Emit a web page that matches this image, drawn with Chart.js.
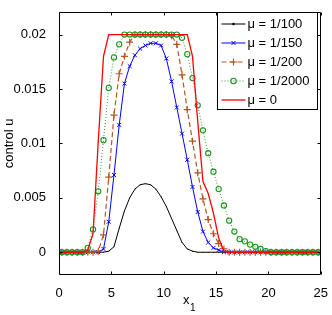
<!DOCTYPE html>
<html>
<head>
<meta charset="utf-8">
<script src="https://cdn.jsdelivr.net/npm/chart.js@4/dist/chart.umd.min.js"></script>
<style>
  html, body { margin: 0; padding: 0; background: #fff; }
  canvas { display: block; }
</style>
</head>
<body>
<canvas id="chart" width="332" height="315"></canvas>
<script>
// grid points (cell centres, spacing 0.5)
const xs = [0.25, 0.75, 1.25, 1.75, 2.25, 2.75, 3.25, 3.75, 4.25, 4.75,
            5.25, 5.75, 6.25, 6.75, 7.25, 7.75, 8.25, 8.75, 9.25, 9.75,
            10.25, 10.75, 11.25, 11.75, 12.25, 12.75, 13.25, 13.75, 14.25, 14.75,
            15.25, 15.75, 16.25, 16.75, 17.25, 17.75, 18.25, 18.75, 19.25, 19.75,
            20.25, 20.75, 21.25, 21.75, 22.25, 22.75, 23.25, 23.75, 24.25, 24.75];

// control u for each mu
const mu100 = [0, 0, 0, 0, 0, 0, 0, 0, 0, 0.0001,
               0.0005, 0.0022, 0.0038, 0.0050, 0.0058, 0.0062, 0.0063, 0.0062, 0.0058, 0.0051,
               0.0042, 0.0031, 0.0020, 0.0009, 0.0003, 0.0001, 0, 0, 0, 0,
               0, 0, 0, 0, 0, 0, 0, 0, 0, 0,
               0, 0, 0, 0, 0, 0, 0, 0, 0, 0];
const mu150 = [0, 0, 0, 0, 0, 0, 0, 0, 0.0003, 0.0028,
               0.0071, 0.0117, 0.0155, 0.0171, 0.0181, 0.0187, 0.0190, 0.0192, 0.0192, 0.0190,
               0.0178, 0.0157, 0.0133, 0.0109, 0.0085, 0.0060, 0.0037, 0.0019, 0.0009, 0.0004,
               0.0002, 0, 0, 0, 0, 0, 0, 0, 0, 0,
               0, 0, 0, 0, 0, 0, 0, 0, 0, 0];
const mu200 = [0, 0, 0, 0, 0, 0, 0, 0.0001, 0.0016, 0.0069,
               0.0126, 0.0164, 0.0180, 0.0193, 0.0200, 0.0200, 0.0200, 0.0200, 0.0200, 0.0200,
               0.0200, 0.0199, 0.0191, 0.0163, 0.0131, 0.0102, 0.0073, 0.0049, 0.0030, 0.0017,
               0.0008, 0.0003, 0, 0, 0, 0, 0, 0, 0, 0,
               0, 0, 0, 0, 0, 0, 0, 0, 0, 0];
const mu2000 = [0, 0, 0, 0, 0, 0.0004, 0.0021, 0.0056, 0.0103, 0.0151,
                0.0179, 0.0191, 0.0200, 0.0200, 0.0200, 0.0200, 0.0200, 0.0200, 0.0200, 0.0200,
                0.0200, 0.0200, 0.0200, 0.0197, 0.0182, 0.0160, 0.0135, 0.0112, 0.0091, 0.0074,
                0.0058, 0.0043, 0.0029, 0.0019, 0.0012, 0.0010, 0.0007, 0.0005, 0.0003, 0.0001,
                0, 0, 0, 0, 0, 0, 0, 0, 0, 0];
const mu0 = [0, 0, 0, 0, 0, 0.0002, 0.0017, 0.0102, 0.0180, 0.0200,
             0.0200, 0.0200, 0.0200, 0.0200, 0.0200, 0.0200, 0.0200, 0.0200, 0.0200, 0.0200,
             0.0200, 0.0200, 0.0200, 0.0200, 0.0200, 0.0180, 0.0120, 0.0065, 0.0054, 0.0036,
             0.0013, 0.0001, 0, 0, 0, 0, 0, 0, 0, 0,
             0, 0, 0, 0, 0, 0, 0, 0, 0, 0];

const seriesLabels = ["μ = 1/100", "μ = 1/150", "μ = 1/200", "μ = 1/2000", "μ = 0"];
const legendMarkerRadius = [1.3, 2.8, 3.5, 2.7, 0];
const xTicks = [0, 5, 10, 15, 20, 25];
const yTicks = [0, 0.005, 0.01, 0.015, 0.02];

const FONT = '"Liberation Sans", Arial, Helvetica, sans-serif';

function toPoints(ys) {
    return xs.map((x, i) => ({ x: x, y: ys[i] }));
}

// box round the plot with inward ticks, matlab style
const boxPlugin = {
    id: "boxPlugin",
    afterDatasetsDraw(chart) {
        const { ctx, chartArea: a, scales } = chart;
        const L = Math.floor(a.left) + 0.5, R = Math.floor(a.right) + 0.5;
        const T = Math.floor(a.top) + 0.5, B = Math.floor(a.bottom) + 0.5;
        ctx.save();
        ctx.strokeStyle = "#000";
        ctx.lineWidth = 1;
        ctx.beginPath();
        ctx.rect(L, T, R - L, B - T);
        xTicks.forEach(v => {
            const px = Math.round(scales.x.getPixelForValue(v)) + 0.5;
            ctx.moveTo(px, B); ctx.lineTo(px, B - 3);
            ctx.moveTo(px, T); ctx.lineTo(px, T + 3);
        });
        yTicks.forEach(v => {
            const py = Math.round(scales.y.getPixelForValue(v)) + 0.5;
            ctx.moveTo(L, py); ctx.lineTo(L + 3, py);
            ctx.moveTo(R, py); ctx.lineTo(R - 3, py);
        });
        ctx.stroke();

        // x axis title with a real subscript
        const cx = (a.left + a.right) / 2 - 4;
        ctx.fillStyle = "#000";
        ctx.textAlign = "left";
        ctx.textBaseline = "alphabetic";
        ctx.font = "13px " + FONT;
        ctx.fillText("x", cx - 3, 303.5);
        ctx.font = "10px " + FONT;
        ctx.fillText("1", cx + 4, 311);
        ctx.restore();
    }
};

// legend drawn inside the axes, top right
const legendPlugin = {
    id: "legendPlugin",
    afterDraw(chart) {
        const { ctx, chartArea: a } = chart;
        const boxL = Math.floor(a.right) - 102.5;
        const boxT = Math.floor(a.top) + 0.5;
        const boxW = 100, boxH = 97;
        ctx.save();
        ctx.fillStyle = "#fff";
        ctx.fillRect(boxL, boxT, boxW, boxH);
        ctx.strokeStyle = "#000";
        ctx.lineWidth = 1;
        ctx.strokeRect(boxL, boxT, boxW, boxH);

        chart.data.datasets.forEach((ds, i) => {
            const cy = boxT + 11.5 + 19 * i;
            ctx.save();
            ctx.strokeStyle = ds.borderColor;
            ctx.lineWidth = ds.borderWidth;
            ctx.setLineDash(ds.borderDash || []);
            ctx.beginPath();
            ctx.moveTo(boxL + 4, cy);
            ctx.lineTo(boxL + 28, cy);
            ctx.stroke();
            ctx.setLineDash([]);
            if (legendMarkerRadius[i] > 0) {
                ctx.strokeStyle = ds.pointBorderColor;
                ctx.fillStyle = ds.pointBackgroundColor;
                ctx.lineWidth = ds.pointBorderWidth;
                Chart.helpers.drawPoint(ctx, {
                    pointStyle: ds.pointStyle,
                    radius: legendMarkerRadius[i],
                    rotation: 0,
                    borderWidth: ds.pointBorderWidth
                }, boxL + 16, cy);
            }
            ctx.restore();
            ctx.fillStyle = "#000";
            ctx.font = "13px " + FONT;
            ctx.textBaseline = "middle";
            ctx.textAlign = "left";
            ctx.fillText(ds.label, boxL + 30, cy + 0.5);
        });
        ctx.restore();
    }
};

const ctx = document.getElementById("chart").getContext("2d");

new Chart(ctx, {
    type: "line",
    data: {
        datasets: [
            {
                label: seriesLabels[0],
                data: toPoints(mu100),
                borderColor: "#000000",
                borderWidth: 1,
                pointStyle: "circle",
                pointRadius: 0.5,
                pointBackgroundColor: "#000000",
                pointBorderColor: "#000000",
                pointBorderWidth: 0,
                order: 5
            },
            {
                label: seriesLabels[1],
                data: toPoints(mu150),
                borderColor: "#0000ff",
                borderWidth: 1,
                pointStyle: "crossRot",
                pointRadius: 2.8,
                pointBackgroundColor: "#0000ff",
                pointBorderColor: "#0000ff",
                pointBorderWidth: 1,
                order: 4
            },
            {
                label: seriesLabels[2],
                data: toPoints(mu200),
                borderColor: "#b5561f",
                borderWidth: 1.2,
                borderDash: [5, 3],
                pointStyle: "cross",
                pointRadius: 3.5,
                pointBackgroundColor: "#b5561f",
                pointBorderColor: "#b5561f",
                pointBorderWidth: 1.2,
                order: 3
            },
            {
                label: seriesLabels[3],
                data: toPoints(mu2000),
                borderColor: "#2a9a2a",
                borderWidth: 1,
                borderDash: [1, 2],
                pointStyle: "circle",
                pointRadius: 2.6,
                pointBackgroundColor: "rgba(0,0,0,0)",
                pointBorderColor: "#1a951a",
                pointBorderWidth: 1.1,
                order: 2
            },
            {
                label: seriesLabels[4],
                data: toPoints(mu0),
                borderColor: "#ff0000",
                borderWidth: 1.3,
                pointRadius: 0,
                order: 1
            }
        ]
    },
    options: {
        responsive: false,
        animation: false,
        events: [],
        layout: { padding: { top: 12, right: 11, left: 0, bottom: 0 } },
        elements: { line: { tension: 0, fill: false } },
        plugins: {
            legend: { display: false },
            tooltip: { enabled: false }
        },
        scales: {
            x: {
                type: "linear",
                min: 0,
                max: 25,
                grid: { display: false },
                border: { display: false },
                ticks: {
                    stepSize: 5,
                    color: "#000",
                    padding: 4,
                    maxRotation: 0,
                    font: { family: FONT, size: 13 }
                },
                title: { display: false },
                afterFit: s => { s.height = 41; }
            },
            y: {
                type: "linear",
                min: -0.002,
                max: 0.022,
                grid: { display: false },
                border: { display: false },
                afterBuildTicks: s => { s.ticks = yTicks.map(v => ({ value: v })); },
                ticks: {
                    color: "#000",
                    padding: 5,
                    font: { family: FONT, size: 13 },
                    callback: v => String(v)
                },
                title: {
                    display: true,
                    text: "control u",
                    color: "#000",
                    padding: { top: 2, bottom: 0 },
                    font: { family: FONT, size: 13 }
                },
                afterFit: s => { s.width = 59; }
            }
        }
    },
    plugins: [boxPlugin, legendPlugin]
});
</script>
</body>
</html>
